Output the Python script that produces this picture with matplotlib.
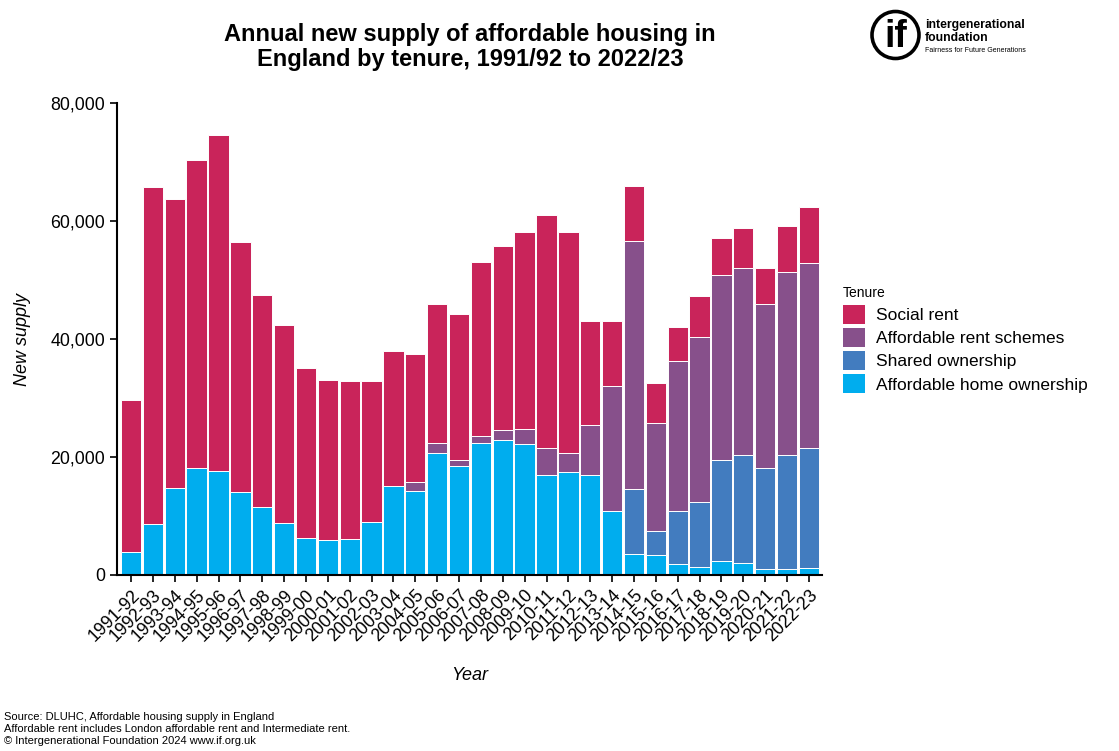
import numpy as np
import matplotlib
matplotlib.use("Agg")
import matplotlib.pyplot as plt
from matplotlib.patches import Patch, Circle
from matplotlib.ticker import FuncFormatter

plt.rcParams['font.family'] = ['Liberation Sans', 'DejaVu Sans']

years = ["1991-92", "1992-93", "1993-94", "1994-95", "1995-96", "1996-97", "1997-98",
         "1998-99", "1999-00", "2000-01", "2001-02", "2002-03", "2003-04", "2004-05",
         "2005-06", "2006-07", "2007-08", "2008-09", "2009-10", "2010-11", "2011-12",
         "2012-13", "2013-14", "2014-15", "2015-16", "2016-17", "2017-18", "2018-19",
         "2019-20", "2020-21", "2021-22", "2022-23"]

affordable_home_ownership = [3900, 8600, 14700, 18100, 17600, 14000, 11600, 8800, 6200, 5900,
                             6100, 8900, 15100, 14200, 20700, 18400, 22400, 22900, 22200, 16900,
                             17400, 16900, 10900, 3500, 3400, 1900, 1400, 2400, 2000, 1000,
                             1000, 1100]
shared_ownership = [0, 0, 0, 0, 0, 0, 0, 0, 0, 0,
                    0, 0, 0, 0, 0, 0, 0, 0, 0, 0,
                    0, 0, 0, 11100, 4100, 9000, 11000, 17100, 18300, 17100,
                    19300, 20400]
affordable_rent_schemes = [0, 0, 0, 0, 0, 0, 0, 0, 0, 0,
                           0, 0, 0, 1600, 1600, 1100, 1100, 1700, 2600, 4600,
                           3300, 8600, 21200, 42000, 18200, 25400, 27900, 31300, 31800, 27800,
                           31100, 31300]
social_rent = [25700, 57100, 49000, 52300, 56900, 42400, 35800, 33600, 28900, 27200,
               26800, 23900, 22900, 21600, 23600, 24700, 29600, 31200, 33400, 39500,
               37500, 17500, 11000, 9300, 6800, 5800, 7000, 6400, 6800, 6100,
               7700, 9600]

series = [
    ("Affordable home ownership", affordable_home_ownership, "#00ADEE"),
    ("Shared ownership", shared_ownership, "#427CBF"),
    ("Affordable rent schemes", affordable_rent_schemes, "#87508B"),
    ("Social rent", social_rent, "#C9245A"),
]

W, H = 1119, 751
fig = plt.figure(figsize=(W / 100, H / 100), dpi=100)
ax = fig.add_axes([0.1046, 0.2344, 0.6300, 0.6284])

x = np.arange(len(years))
bottom = np.zeros(len(years))
handles = []
for name, vals, col in series:
    vals = np.asarray(vals, dtype=float)
    ax.bar(x, vals, bottom=bottom, width=0.93, color=col, edgecolor="white", linewidth=0.7)
    bottom += vals
    handles.append(Patch(facecolor=col, edgecolor="none", label=name))

ax.set_xlim(-0.64, len(years) - 0.4)
ax.set_ylim(0, 80000)
ax.set_yticks([0, 20000, 40000, 60000, 80000])
ax.yaxis.set_major_formatter(FuncFormatter(lambda v, p: f"{int(v):,}"))
ax.set_xticks(x)
ax.set_xticklabels(years, rotation=45, ha="right", rotation_mode="anchor", fontsize=12.8)
ax.tick_params(axis="y", labelsize=12.8, length=5, width=1.2, colors="black")
ax.tick_params(axis="x", length=5, width=1.2, colors="black")
for s in ["top", "right"]:
    ax.spines[s].set_visible(False)
for s in ["left", "bottom"]:
    ax.spines[s].set_linewidth(1.5)

ax.set_ylabel("New supply", fontsize=13, style="italic", labelpad=14)
ax.set_xlabel("Year", fontsize=13, style="italic", labelpad=16)

fig.text(0.42, 0.970, "Annual new supply of affordable housing in\nEngland by tenure, 1991/92 to 2022/23",
         ha="center", va="top", fontsize=17, fontweight="bold", linespacing=1.12)

leg = fig.legend(handles=handles[::-1], title="Tenure", loc="upper left",
                 bbox_to_anchor=(0.747, 0.628), frameon=False, fontsize=12.5,
                 title_fontsize=10, handlelength=1.3, handleheight=1.3,
                 handletextpad=0.6, labelspacing=0.25, borderaxespad=0)
leg._legend_box.align = "left"

fig.text(0.004, 0.006, "Source: DLUHC, Affordable housing supply in England\n"
         "Affordable rent includes London affordable rent and Intermediate rent.\n"
         "\u00a9 Intergenerational Foundation 2024 www.if.org.uk",
         ha="left", va="bottom", fontsize=8, linespacing=1.25)

# organisation logo, laid out in pixel units (y downward)
lx0, lx1, ly1 = 860, 1060, 70
logo = fig.add_axes([lx0 / W, 1 - ly1 / H, (lx1 - lx0) / W, ly1 / H])
logo.set_xlim(lx0, lx1)
logo.set_ylim(ly1, 0)
logo.axis("off")
logo.add_patch(Circle((895.5, 35), 23.5, fill=False, edgecolor="black", linewidth=2.6))
logo.text(895.5, 37, "if", ha="center", va="center", fontsize=27, fontweight="bold")
logo.text(925, 25, "intergenerational", ha="left", va="center", fontsize=8.8, fontweight="bold")
logo.text(925, 38, "foundation", ha="left", va="center", fontsize=8.8, fontweight="bold")
logo.text(925, 50, "Fairness for Future Generations", ha="left", va="center", fontsize=5.0)

fig.savefig("out.png", dpi=100, facecolor="white")
